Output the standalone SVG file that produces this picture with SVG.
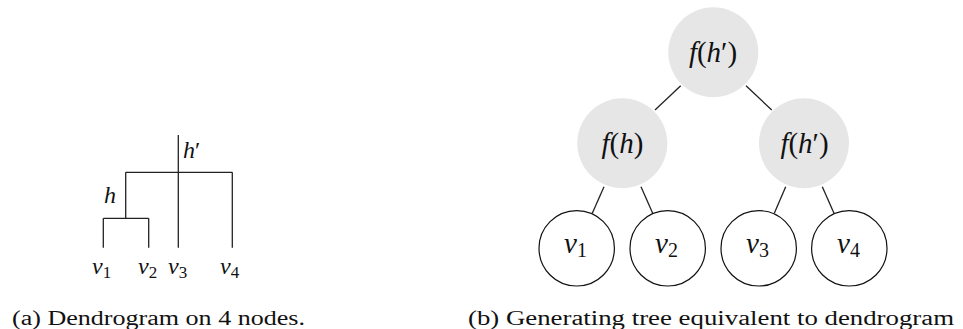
<svg xmlns="http://www.w3.org/2000/svg" width="963" height="329" viewBox="0 0 963 329">
<style>
.ln{stroke:#222;stroke-width:1.3;fill:none}
.inner{fill:#e6e6e6;stroke:none}
.leaf{fill:#ffffff;stroke:#111;stroke-width:1.2}
</style>
<rect x="0" y="0" width="963" height="329" fill="#ffffff"/>

<g id="dendrogram">
  <g id="dendro-lines">
    <line class="ln" x1="178.3" y1="135" x2="178.3" y2="247.7"/>
    <line class="ln" x1="125.7" y1="172.3" x2="232.3" y2="172.3"/>
    <line class="ln" x1="232.3" y1="172.3" x2="232.3" y2="247.7"/>
    <line class="ln" x1="125.7" y1="172.3" x2="125.7" y2="218.3"/>
    <line class="ln" x1="103.3" y1="218.3" x2="148.7" y2="218.3"/>
    <line class="ln" x1="103.3" y1="218.3" x2="103.3" y2="247.7"/>
    <line class="ln" x1="148.7" y1="218.3" x2="148.7" y2="247.7"/>
  </g>
  <g id="d-hprime"><text x="183" y="158" font-size="24" fill="#111" font-family="Liberation Serif, serif" style="font-family:'Liberation Serif',serif"><tspan font-style="italic">h</tspan>′</text></g>
  <g id="d-h"><text x="104" y="203" font-size="24" fill="#111" font-family="Liberation Serif, serif" style="font-family:'Liberation Serif',serif;font-style:italic">h</text></g>
  <g id="d-v1"><text x="92" y="274" font-size="24" fill="#111" font-family="Liberation Serif, serif" style="font-family:'Liberation Serif',serif"><tspan font-style="italic">v</tspan><tspan font-size="17" dy="4">1</tspan></text></g>
  <g id="d-v2"><text x="138" y="274" font-size="24" fill="#111" font-family="Liberation Serif, serif" style="font-family:'Liberation Serif',serif"><tspan font-style="italic">v</tspan><tspan font-size="17" dy="4">2</tspan></text></g>
  <g id="d-v3"><text x="168" y="274" font-size="24" fill="#111" font-family="Liberation Serif, serif" style="font-family:'Liberation Serif',serif"><tspan font-style="italic">v</tspan><tspan font-size="17" dy="4">3</tspan></text></g>
  <g id="d-v4"><text x="220" y="274" font-size="24" fill="#111" font-family="Liberation Serif, serif" style="font-family:'Liberation Serif',serif"><tspan font-style="italic">v</tspan><tspan font-size="17" dy="4">4</tspan></text></g>
</g>

<g id="connectors">
  <line class="ln" x1="680.7" y1="85.7" x2="655" y2="110"/>
  <line class="ln" x1="746" y1="85.7" x2="771.7" y2="110"/>
  <line class="ln" x1="604" y1="186.7" x2="592.3" y2="213.3"/>
  <line class="ln" x1="641" y1="186.7" x2="652.7" y2="213.3"/>
  <line class="ln" x1="785.7" y1="186.7" x2="774.3" y2="213.3"/>
  <line class="ln" x1="822.3" y1="186.7" x2="834" y2="213.3"/>
</g>

<g id="root">
  <circle class="inner" cx="713.3" cy="52.3" r="45"/>
  <text x="713" y="62" font-size="29" fill="#111" text-anchor="middle" font-family="Liberation Serif, serif" style="font-family:'Liberation Serif',serif"><tspan font-style="italic">f</tspan>(<tspan font-style="italic">h</tspan>′)</text>
</g>
<g id="mid-left">
  <circle class="inner" cx="622.3" cy="143.3" r="45"/>
  <text x="622.5" y="153" font-size="29" fill="#111" text-anchor="middle" font-family="Liberation Serif, serif" style="font-family:'Liberation Serif',serif"><tspan font-style="italic">f</tspan>(<tspan font-style="italic">h</tspan>)</text>
</g>
<g id="mid-right">
  <circle class="inner" cx="804" cy="143.3" r="45"/>
  <text x="804.5" y="153" font-size="29" fill="#111" text-anchor="middle" font-family="Liberation Serif, serif" style="font-family:'Liberation Serif',serif"><tspan font-style="italic">f</tspan>(<tspan font-style="italic">h</tspan>′)</text>
</g>
<g id="leaf-v1">
  <circle class="leaf" cx="576.7" cy="248.3" r="37.7"/>
  <text x="564" y="253" font-size="29" fill="#111" font-family="Liberation Serif, serif" style="font-family:'Liberation Serif',serif"><tspan font-style="italic">v</tspan><tspan font-size="20" dy="4">1</tspan></text>
</g>
<g id="leaf-v2">
  <circle class="leaf" cx="667.7" cy="248.3" r="37.7"/>
  <text x="655" y="253" font-size="29" fill="#111" font-family="Liberation Serif, serif" style="font-family:'Liberation Serif',serif"><tspan font-style="italic">v</tspan><tspan font-size="20" dy="4">2</tspan></text>
</g>
<g id="leaf-v3">
  <circle class="leaf" cx="758.7" cy="248.3" r="37.7"/>
  <text x="746" y="253" font-size="29" fill="#111" font-family="Liberation Serif, serif" style="font-family:'Liberation Serif',serif"><tspan font-style="italic">v</tspan><tspan font-size="20" dy="4">3</tspan></text>
</g>
<g id="leaf-v4">
  <circle class="leaf" cx="849.3" cy="248.3" r="37.7"/>
  <text x="837" y="253" font-size="29" fill="#111" font-family="Liberation Serif, serif" style="font-family:'Liberation Serif',serif"><tspan font-style="italic">v</tspan><tspan font-size="20" dy="4">4</tspan></text>
</g>

<g id="captions">
  <text x="12" y="325" font-size="20" fill="#111" textLength="293" lengthAdjust="spacingAndGlyphs" font-family="Liberation Serif, serif" style="font-family:'Liberation Serif',serif">(a) Dendrogram on 4 nodes.</text>
  <text x="468" y="325" font-size="20" fill="#111" textLength="486" lengthAdjust="spacingAndGlyphs" font-family="Liberation Serif, serif" style="font-family:'Liberation Serif',serif">(b) Generating tree equivalent to dendrogram</text>
</g>
</svg>
